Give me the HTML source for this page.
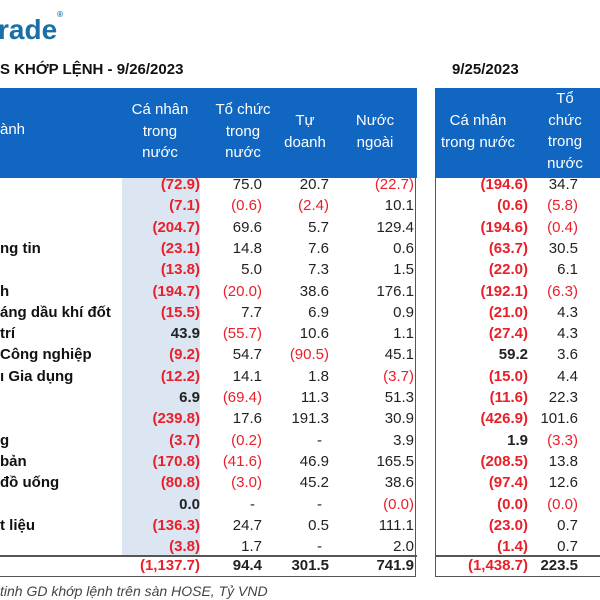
<!DOCTYPE html>
<html><head><meta charset="utf-8">
<style>
body{margin:0;width:600px;height:600px;overflow:hidden;background:#fff;position:relative;font-family:"Liberation Sans",Arial,sans-serif;}
.a{position:absolute;white-space:nowrap;}
.hd{color:#fff;font-size:15px;text-align:center;line-height:21.5px;transform:translateX(-50%);}
.c{font-size:15px;line-height:16px;text-align:right;}
.neg{color:#e8202a;}
.pos{color:#222;}
.b{font-weight:bold;}
.lbl{font-size:15px;font-weight:bold;color:#111;line-height:16px;}
</style></head><body>
<div class="a" style="left:-2px;top:14px;font-size:28px;font-weight:bold;color:#1b6fa6;">rade<sup style="font-size:8px;vertical-align:top;position:relative;top:-4px;">®</sup></div>
<div class="a" style="left:0;top:61px;font-size:15px;font-weight:bold;color:#111;">S KHỚP LỆNH - 9/26/2023</div>
<div class="a" style="left:452px;top:61px;font-size:15px;font-weight:bold;color:#111;">9/25/2023</div>

<div class="a" style="left:0;top:88px;width:417px;height:90px;background:#1066c0;"></div>
<div class="a" style="left:436px;top:88px;width:164px;height:90px;background:#1066c0;"></div>
<div class="a" style="left:122px;top:178px;width:78px;height:377px;background:#dce6f2;"></div>
<div class="a" style="left:-2px;top:88px;width:417px;height:488px;border:1.5px solid #555;border-top:none;border-left:none;"></div>
<div class="a" style="left:435px;top:88px;width:170px;height:488px;border:1.5px solid #555;border-top:none;"></div>
<div class="a" style="left:0;top:555px;width:417px;height:1.5px;background:#555;"></div>
<div class="a" style="left:436px;top:555px;width:164px;height:1.5px;background:#555;"></div>

<div class="a" style="left:0;top:121px;color:#fff;font-size:15px;">ành</div>
<div class="a hd" style="left:160px;top:99px;">Cá nhân<br>trong<br>nước</div>
<div class="a hd" style="left:243px;top:99px;">Tổ chức<br>trong<br>nước</div>
<div class="a hd" style="left:305px;top:110px;">Tự<br>doanh</div>
<div class="a hd" style="left:375px;top:110px;">Nước<br>ngoài</div>
<div class="a hd" style="left:478px;top:110px;">Cá nhân<br>trong nước</div>
<div class="a hd" style="left:565px;top:88px;">Tổ<br>chức<br>trong<br>nước</div>

<div class="a" style="left:0;top:583px;font-size:14px;font-style:italic;color:#444;">tinh GD khớp lệnh trên sàn HOSE, Tỷ VND</div>

<div id="rows"></div>
<script>
const labels=["","","","ng tin","","h","áng dầu khí đốt","trí"," Công nghiệp","ı Gia dụng","","","g","bản","đồ uống","","t liệu","",""];
const individual=[-72.9,-7.1,-204.7,-23.1,-13.8,-194.7,-15.5,43.9,-9.2,-12.2,6.9,-239.8,-3.7,-170.8,-80.8,0.0,-136.3,-3.8,-1137.7];
const institution=[75.0,-0.6,69.6,14.8,5.0,-20.0,7.7,-55.7,54.7,14.1,-69.4,17.6,-0.2,-41.6,-3.0,null,24.7,1.7,94.4];
const proprietary=[20.7,-2.4,5.7,7.6,7.3,38.6,6.9,10.6,-90.5,1.8,11.3,191.3,null,46.9,45.2,null,0.5,null,301.5];
const foreign=[-22.7,10.1,129.4,0.6,1.5,176.1,0.9,1.1,45.1,-3.7,51.3,30.9,3.9,165.5,38.6,-0.0001,111.1,2.0,741.9];
const prevIndividual=[-194.6,-0.6,-194.6,-63.7,-22.0,-192.1,-21.0,-27.4,59.2,-15.0,-11.6,-426.9,1.9,-208.5,-97.4,-0.0001,-23.0,-1.4,-1438.7];
const prevInstitution=[34.7,-5.8,-0.4,30.5,6.1,-6.3,4.3,4.3,3.6,4.4,22.3,101.6,-3.3,13.8,12.6,-0.0001,0.7,0.7,223.5];
const cols=[
 {d:individual,r:200,bold:true,name:'individual'},
 {d:institution,r:262,bold:false,name:'institution'},
 {d:proprietary,r:329,bold:false,name:'proprietary'},
 {d:foreign,r:414,bold:false,name:'foreign'},
 {d:prevIndividual,r:528,bold:true,name:'prev-individual'},
 {d:prevInstitution,r:578,bold:false,name:'prev-institution'}];
function fmt(v){
  if(v===null) return '-';
  const a=Math.abs(v).toLocaleString('en-US',{minimumFractionDigits:1,maximumFractionDigits:1});
  return v<0?'('+a+')':a;
}
function rowY(i){return i<18?177+i*21.3:558;}
const host=document.getElementById('rows');
labels.forEach((l,i)=>{
  if(!l) return;
  const e=document.createElement('div');
  e.className='a lbl';
  e.style.left='0px';e.style.top=rowY(i)+'px';
  e.textContent=l;
  
  
  host.appendChild(e);
});
cols.forEach(c=>{
  c.d.forEach((v,i)=>{
    const e=document.createElement('div');
    const total=i===18;
    e.className='a c '+(v!==null&&v<0?'neg':'pos')+((c.bold||total)?' b':'');
    e.textContent=fmt(v);
    e.style.top=rowY(i)+'px';
    if(v===null){e.style.left=(c.r-12)+'px';}
    else{e.style.right=(600-c.r)+'px';}
    
    
    host.appendChild(e);
  });
});
</script>
</body></html>
